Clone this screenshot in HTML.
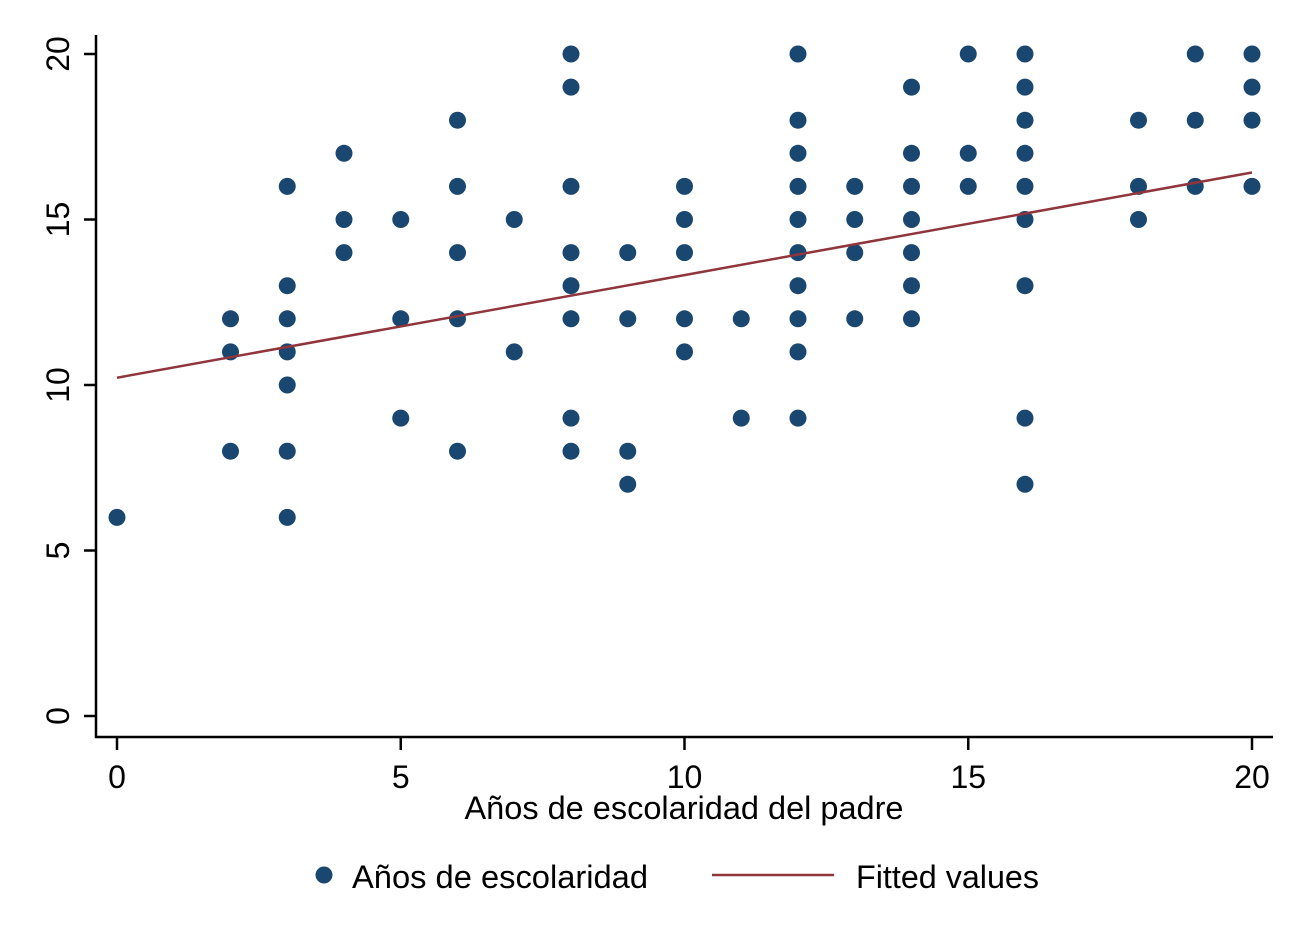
<!DOCTYPE html>
<html><head><meta charset="utf-8"><style>
body{margin:0;background:#fff}
svg{display:block;font-family:"Liberation Sans",Arial,sans-serif}
</style></head><body>
<svg id="chart" width="1307" height="950">
<g id="axes"></g><g id="marks"></g><g id="legend"></g>
</svg>
<script>
const xValues=[0,2,2,2,3,3,3,3,3,3,3,4,4,4,5,5,5,6,6,6,6,6,7,7,8,8,8,8,8,8,8,8,9,9,9,9,10,10,10,10,10,11,11,12,12,12,12,12,12,12,12,12,12,13,13,13,13,14,14,14,14,14,14,14,15,15,15,16,16,16,16,16,16,16,16,16,18,18,18,19,19,19,20,20,20,20];
const yValues=[6,12,11,8,16,13,12,11,10,8,6,17,15,14,15,12,9,18,16,14,12,8,15,11,20,19,16,14,13,12,9,8,14,12,8,7,16,15,14,12,11,12,9,20,18,17,16,15,14,13,12,11,9,16,15,14,12,19,17,16,15,14,13,12,20,17,16,20,19,18,17,16,15,13,9,7,18,16,15,20,18,16,20,19,18,16];
const fitIntercept=10.22;
const fitSlope=0.31;
const xTicks=[0,5,10,15,20];
const yTicks=[0,5,10,15,20];
const NS="http://www.w3.org/2000/svg";
const X=v=>117+v*(1252-117)/20;
const Y=v=>716-v*(716-54)/20;
function mk(p,tag,at,txt){const e=document.createElementNS(NS,tag);for(const k in at)e.setAttribute(k,at[k]);if(txt!==undefined)e.textContent=txt;p.appendChild(e);return e;}
const axes=document.getElementById('axes'),marks=document.getElementById('marks'),legend=document.getElementById('legend');
let e=mk(axes,'line',{x1:96,y1:35,x2:96,y2:738,stroke:'#000','stroke-width':2.5});

e=mk(axes,'line',{x1:95,y1:737,x2:1273,y2:737,stroke:'#000','stroke-width':2.5});

xTicks.forEach(t=>{
 let l=mk(axes,'line',{x1:X(t),y1:737,x2:X(t),y2:750,stroke:'#000','stroke-width':2.5});
 
 let s=mk(axes,'text',{x:X(t),y:788,'text-anchor':'middle','font-size':32},t);
 
});
yTicks.forEach(t=>{
 let l=mk(axes,'line',{x1:84,y1:Y(t),x2:96,y2:Y(t),stroke:'#000','stroke-width':2.5});
 
 let s=mk(axes,'text',{x:0,y:0,'text-anchor':'middle','font-size':32,transform:`translate(69,${Y(t)}) rotate(-90)`},t);
 
});
e=mk(axes,'text',{x:684,y:819,'text-anchor':'middle','font-size':32,textLength:439,lengthAdjust:'spacingAndGlyphs'},'Años de escolaridad del padre');

xValues.forEach((xv,i)=>{
 let c=mk(marks,'circle',{cx:X(xv),cy:Y(yValues[i]),r:8.5,fill:'#1a476f'});
 
});
e=mk(marks,'line',{x1:X(0),y1:Y(fitIntercept),x2:X(20),y2:Y(fitIntercept+fitSlope*20),stroke:'#90353b','stroke-width':2.5});

e=mk(legend,'circle',{cx:324,cy:875,r:8.5,fill:'#1a476f'});

e=mk(legend,'text',{x:352,y:888,'font-size':32,textLength:296,lengthAdjust:'spacingAndGlyphs'},'Años de escolaridad');

e=mk(legend,'line',{x1:712,y1:875,x2:834,y2:875,stroke:'#90353b','stroke-width':2.5});

e=mk(legend,'text',{x:856,y:888,'font-size':32,textLength:183,lengthAdjust:'spacingAndGlyphs'},'Fitted values');

</script>
</body></html>
